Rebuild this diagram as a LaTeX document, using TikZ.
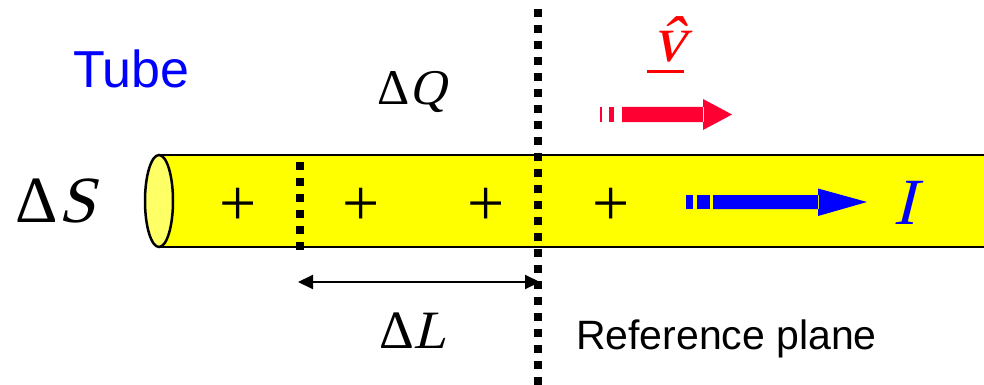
\documentclass[tikz,border=0pt]{standalone}
\usepackage{fontspec}
\setmainfont{Liberation Serif}
\newfontfamily\timesit{Liberation Serif}[FakeSlant=0.25]
\newfontfamily\arialfont{Liberation Sans}
\usetikzlibrary{arrows.meta}
\definecolor{tubeyellow}{HTML}{FFFF00}
\definecolor{capyellow}{HTML}{FFFF66}
\definecolor{arrowred}{HTML}{FF0033}
\definecolor{pureblue}{HTML}{0000FF}
\begin{document}
\begin{tikzpicture}[x=1pt,y=-1pt,
  lbl/.style={inner sep=0pt,outer sep=0pt,anchor=base west},
  plus/.style={inner sep=0pt,outer sep=0pt,anchor=base,font=\fontsize{66}{66}\selectfont},
  dotline/.style={line width=8pt,dash pattern=on 8pt off 8pt},
  tubeline/.style={line width=2.5pt,black}]
\useasboundingbox (0,0) rectangle (984,385);
% tube body
\fill[tubeyellow] (159,155) rectangle (984,247);
\draw[tubeline] (159,155) -- (984,155);
\draw[tubeline] (159,247) -- (984,247);
\draw[tubeline,fill=capyellow] (159,201) ellipse [x radius=14,y radius=46];
% plus charges
\node[plus] (p1) at (238,225.7) {+};
\node[plus] (p2) at (361,225.7) {+};
\node[plus] (p3) at (486,225.7) {+};
\node[plus] (p4) at (611,225.7) {+};
% dotted lines
\draw[dotline] (300,162) -- (300,250);
\draw[dotline] (538,9) -- (538,385);
% length arrow
\coordinate (la) at (298,282);
\coordinate (lb) at (540,282);
\draw[line width=2pt,{Triangle[length=15pt,width=14pt]}-{Triangle[length=15pt,width=14pt]}] (la) -- (lb);
% red velocity arrow
\fill[arrowred] (600,107) rectangle (602,122);
\fill[arrowred] (609,107) rectangle (614,122);
\fill[arrowred] (622,107) rectangle (704,122) (703,99) -- (732,114.5) -- (703,130) -- cycle;
% blue current arrow
\fill[pureblue] (686,195) rectangle (693,209);
\fill[pureblue] (697,195) rectangle (710,209);
\fill[pureblue] (713,195) rectangle (819,209) (818,188.5) -- (867,202) -- (818,216) -- cycle;
% labels
\node[lbl,text=pureblue,font=\arialfont\fontsize{52}{52}\selectfont] (tube) at (73,88) {Tube};
\node[lbl,font=\fontsize{66}{66}\selectfont] (dS) at (16,222) {Δ{\timesit S}};
\node[lbl,font=\fontsize{50}{50}\selectfont] (dQ) at (377,105) {Δ{\timesit Q}};
\node[lbl,font=\fontsize{54}{54}\selectfont] (dL) at (379,348) {Δ{\timesit L}};
\node[lbl,text=pureblue,font=\timesit\fontsize{66}{66}\selectfont] (I) at (893,224) {I};
\node[lbl,text=red,font=\timesit\fontsize{66}{66}\selectfont] (v) at (652,62) {\^{v}};
\draw[red,line width=3pt] (647,72) -- (684,72);
\node[lbl,font=\arialfont\fontsize{41}{41}\selectfont] (ref) at (576,349) {Reference plane};
\end{tikzpicture}
\end{document}
